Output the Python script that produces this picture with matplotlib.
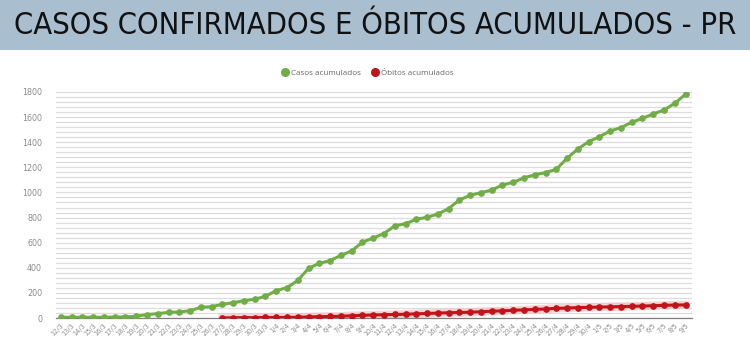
import matplotlib.pyplot as plt
from matplotlib.patches import Rectangle
from matplotlib.lines import Line2D

# dates 12/3 -> 9/5
datas = ([f'{d}/3' for d in range(12, 32)] +
         [f'{d}/4' for d in range(1, 31)] +
         [f'{d}/5' for d in range(1, 10)])

casos = [6, 6, 6, 6, 6, 8, 8, 14, 27, 35, 45, 48, 58, 85, 90, 109, 122, 138, 149, 173,
         218, 242, 299, 396, 435, 457, 499, 534, 604, 637, 673, 734, 751, 786, 802, 828,
         871, 940, 977, 998, 1019, 1059, 1081, 1116, 1141, 1158, 1184, 1272, 1346, 1404,
         1444, 1489, 1516, 1559, 1590, 1625, 1657, 1710, 1782]

# deaths start on 27/3
obitos = [None] * 15 + [1, 2, 3, 3, 4, 4, 5, 6, 9, 11, 12, 14, 18, 21, 24, 26, 28, 30,
                        33, 36, 39, 42, 44, 46, 50, 54, 57, 61, 65, 68, 72, 77, 79, 83,
                        85, 87, 89, 91, 93, 95, 98, 101, 103, 104]

verde = '#70ad47'
vermelho = '#c00000'
cinza = '#8c8c8c'

fig = plt.figure(figsize=(7.5, 3.49), dpi=100)

# title banner
fig.patches.append(Rectangle((0, 1 - 50/349), 1, 50/349, transform=fig.transFigure,
                             facecolor='#a9bfcf', edgecolor='none', zorder=0))
titulo = fig.text(0.5, 1 - 26/349, 'CASOS CONFIRMADOS E ÓBITOS ACUMULADOS - PR',
                  ha='center', va='center', fontsize=23, family='DejaVu Sans',
                  fontstretch='condensed', color='#111111')
# shrink title to the banner width
r = fig.canvas.get_renderer()
w = titulo.get_window_extent(r).width
if w > 725:
    titulo.set_fontsize(23 * 725 / w)

ax = fig.add_axes([56/750, 31/349, 636/750, 226/349])
x = list(range(len(datas)))
ax.plot(x, casos, color=verde, lw=2.2, marker='o', ms=3.8, zorder=3)
xo = [i for i, v in zip(x, obitos) if v is not None]
yo = [v for v in obitos if v is not None]
ax.plot(xo, yo, color='#f4b8b8', lw=6, alpha=0.6, zorder=2)
ax.plot(xo, yo, color='#c0141a', lw=2.2, marker='o', ms=3.8, zorder=3)

ax.set_ylim(0, 1800)
ax.set_xlim(-0.45, len(datas) - 1 + 0.6)
ax.set_yticks(range(0, 1801, 200))
ax.set_yticks(range(0, 1801, 40), minor=True)
ax.grid(axis='y', which='both', color='#dcdcdc', lw=0.9)
ax.set_axisbelow(True)
ax.set_xticks(x)
ax.set_xticklabels(datas, rotation=45, ha='right', rotation_mode='anchor')
ax.tick_params(axis='x', labelsize=4.8, colors=cinza, length=0, pad=3)
ax.tick_params(axis='y', which='both', length=0, labelsize=5.8, labelcolor=cinza, pad=10)
for s in ['top', 'right', 'left']:
    ax.spines[s].set_visible(False)
ax.spines['bottom'].set_color('#7f7f7f')
ax.spines['bottom'].set_linewidth(0.9)

handles = [Line2D([], [], color=verde, marker='o', ls='none', ms=5.5),
           Line2D([], [], color='#c0141a', marker='o', ls='none', ms=5.5)]
leg = fig.legend(handles, ['Casos acumulados', 'Óbitos acumulados'], ncol=2,
                 loc='center', bbox_to_anchor=(0.49, 1 - 73/349), frameon=False,
                 prop={'family': 'Open Sans', 'size': 5.8}, handletextpad=0.3,
                 columnspacing=1.2, handlelength=1)
for t in leg.get_texts():
    t.set_color('#666666')

fig.savefig('out.png', dpi=100)
